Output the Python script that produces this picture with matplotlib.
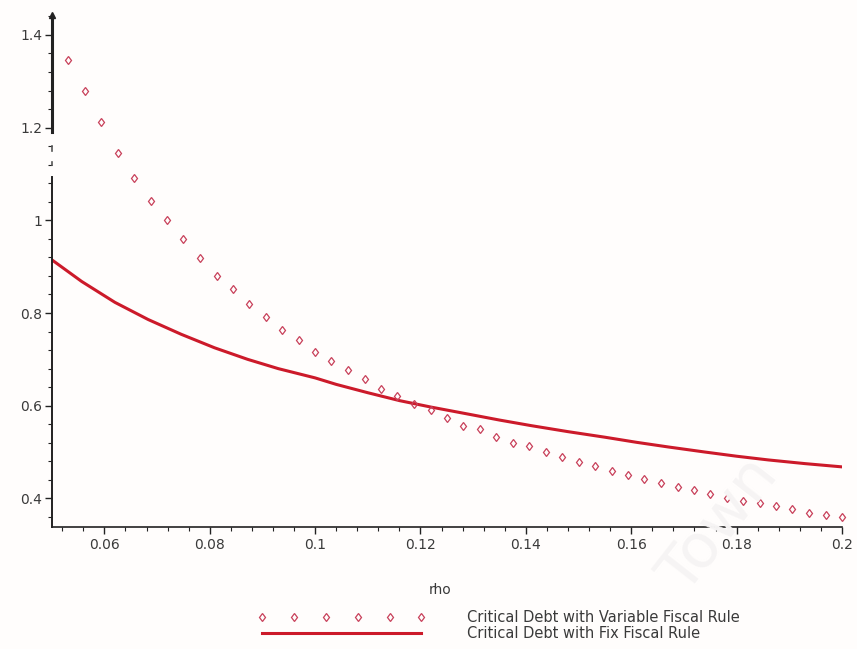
import numpy as np
import matplotlib

matplotlib.use('Agg')
import matplotlib.pyplot as plt
from matplotlib.ticker import MultipleLocator, FixedLocator

# critical debt, variable fiscal rule (point plot)
rho_var = [0.0531, 0.0563, 0.0594, 0.0625, 0.0656, 0.0688, 0.0719, 0.0750,
           0.0781, 0.0813, 0.0844, 0.0875, 0.0906, 0.0938, 0.0969, 0.1000,
           0.1031, 0.1063, 0.1094, 0.1125, 0.1156, 0.1188, 0.1219, 0.1250,
           0.1281, 0.1313, 0.1344, 0.1375, 0.1406, 0.1438, 0.1469, 0.1500,
           0.1531, 0.1563, 0.1594, 0.1625, 0.1656, 0.1688, 0.1719, 0.1750,
           0.1781, 0.1813, 0.1844, 0.1875, 0.1906, 0.1938, 0.1969, 0.2000]
debt_var = [1.345, 1.279, 1.212, 1.145, 1.091, 1.042, 1.000, 0.959,
            0.918, 0.880, 0.851, 0.820, 0.791, 0.764, 0.742, 0.715,
            0.697, 0.677, 0.657, 0.636, 0.620, 0.604, 0.590, 0.574,
            0.556, 0.549, 0.533, 0.520, 0.512, 0.500, 0.490, 0.479,
            0.469, 0.459, 0.451, 0.441, 0.433, 0.425, 0.418, 0.410,
            0.400, 0.395, 0.391, 0.384, 0.378, 0.369, 0.364, 0.359]

# critical debt, fix fiscal rule (solid curve)
rho_fix = [0.050, 0.0557, 0.062, 0.0683, 0.0746, 0.0809, 0.0872, 0.093,
           0.100, 0.104, 0.110, 0.116, 0.122, 0.129, 0.135, 0.141, 0.148,
           0.155, 0.161, 0.167, 0.174, 0.180, 0.186, 0.193, 0.200]
debt_fix = [0.915, 0.868, 0.823, 0.786, 0.754, 0.725, 0.700, 0.680,
            0.660, 0.646, 0.628, 0.611, 0.597, 0.582, 0.569, 0.557, 0.544,
            0.532, 0.521, 0.511, 0.500, 0.491, 0.483, 0.475, 0.468]

xticks = [0.06, 0.08, 0.1, 0.12, 0.14, 0.16, 0.18, 0.2]
xtick_labels = ["0.06", "0.08", "0.1", "0.12", "0.14", "0.16", "0.18", "0.2"]
yticks = [0.4, 0.6, 0.8, 1.0, 1.2, 1.4]
ytick_labels = ["0.4", "0.6", "0.8", "1", "1.2", "1.4"]

label_var = "Critical Debt with Variable Fiscal Rule"
label_fix = "Critical Debt with Fix Fiscal Rule"

bg = '#fffdfc'
text_col = '#3a3a3a'

fig = plt.figure(figsize=(8.57, 6.49), dpi=100, facecolor=bg)
ax = fig.add_axes([0.0603, 0.1885, 0.9222, 0.7884])
ax.set_facecolor(bg)

# faint watermark
fig.text(0.84, 0.19, "Town", rotation=52, fontsize=44, color='#f6f4f4',
         ha='center', va='center', zorder=0)

ax.plot(rho_var, debt_var, linestyle='none', marker='d', markersize=4.5,
        markerfacecolor='none', markeredgecolor='#c8405a', markeredgewidth=0.9,
        label=label_var, clip_on=False, zorder=3)
ax.plot(rho_fix, debt_fix, color='#cc1a2a', linewidth=2.2,
        solid_joinstyle='round', label=label_fix, zorder=2)

ax.set_xlim(0.05, 0.2)
ax.set_ylim(0.339, 1.443)

for s in ['top', 'right', 'left']:
    ax.spines[s].set_visible(False)
ax.spines['bottom'].set_color('#222222')
ax.spines['bottom'].set_linewidth(1.2)

# y axis drawn in two pieces (the reference has a gap in it)
ax.plot([0.05, 0.05], [0.339, 1.093], color='#222222', linewidth=1.4,
        clip_on=False, zorder=4)
ax.plot([0.05, 0.05], [1.19, 1.443], color='#222222', linewidth=2.2,
        clip_on=False, zorder=4)
ax.plot([0.05], [1.443], marker='^', markersize=4, color='#222222',
        clip_on=False, zorder=4)
ax.plot([0.05, 0.05], [1.15, 1.16], color='#555555', linewidth=1.2,
        clip_on=False)
ax.plot([0.05, 0.05], [1.12, 1.125], color='#555555', linewidth=1.2,
        clip_on=False)

ax.xaxis.set_major_locator(FixedLocator(xticks))
ax.set_xticklabels(xtick_labels)
ax.xaxis.set_minor_locator(MultipleLocator(0.004))
ax.yaxis.set_major_locator(FixedLocator(yticks))
ax.set_yticklabels(ytick_labels)
ax.yaxis.set_minor_locator(MultipleLocator(0.04))

ax.tick_params(axis='both', which='both', direction='out', colors='#222222',
               labelcolor=text_col, labelsize=10)
ax.tick_params(axis='both', which='major', length=5, width=1)
ax.tick_params(axis='both', which='minor', length=3, width=0.8)
ax.tick_params(axis='x', pad=3)
ax.tick_params(axis='y', pad=2)

fig.text(440 / 857, 1 - 590 / 649, "rho", fontsize=10, color=text_col,
         ha='center', va='center')

leg = ax.legend(loc='upper left', bbox_to_anchor=(258 / 857, 1 - 610 / 649),
                bbox_transform=fig.transFigure, frameon=False, numpoints=6,
                handlelength=11.5, handletextpad=2.8, labelspacing=0.05,
                fontsize=10.5, borderpad=0, borderaxespad=0)
for t in leg.get_texts():
    t.set_color(text_col)

fig.savefig("out.png", dpi=100, facecolor=bg)
